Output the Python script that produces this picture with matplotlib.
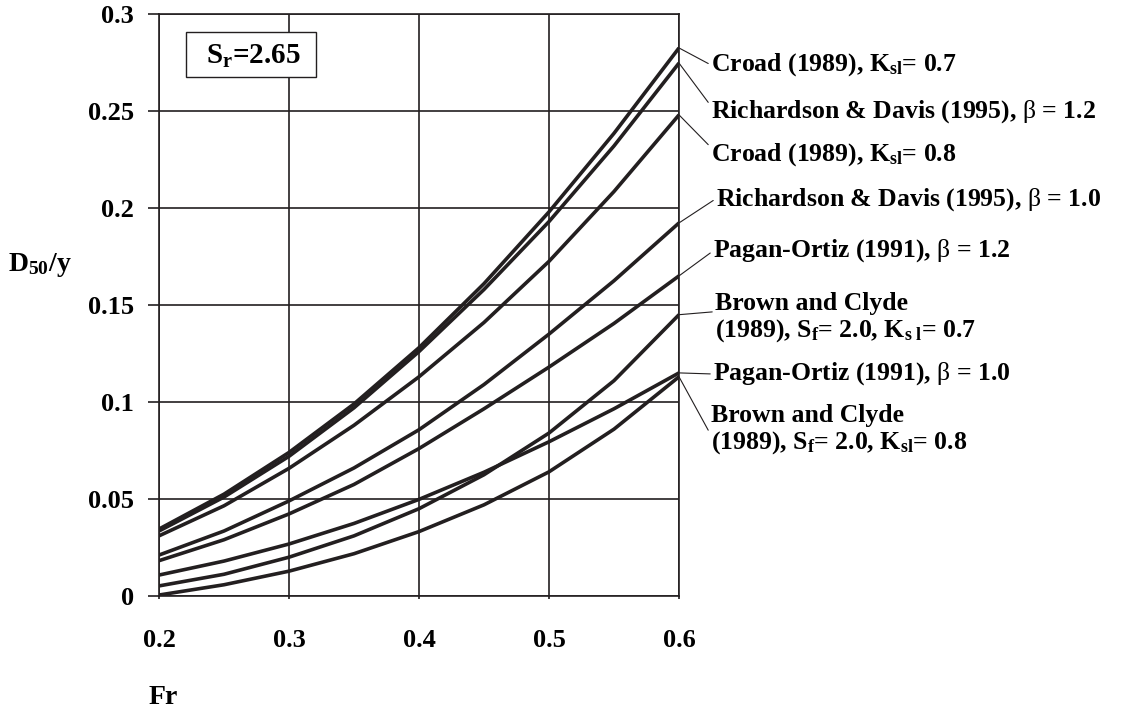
import numpy as np
import matplotlib
matplotlib.use('Agg')
import matplotlib.pyplot as plt
from matplotlib.patches import Rectangle

# Froude number and D50/y
fr = [0.2, 0.25, 0.3, 0.35, 0.4, 0.45, 0.5, 0.55, 0.6]
croad_07 = [0.0345, 0.0525, 0.0740, 0.0990, 0.1280, 0.1610, 0.1980, 0.2385, 0.2825]
rd_12 = [0.0335, 0.0510, 0.0720, 0.0970, 0.1260, 0.1580, 0.1930, 0.2320, 0.2747]
croad_08 = [0.0310, 0.0465, 0.0658, 0.0880, 0.1130, 0.1410, 0.1725, 0.2085, 0.2480]
rd_10 = [0.0211, 0.0335, 0.0490, 0.0660, 0.0857, 0.1090, 0.1350, 0.1625, 0.1923]
pagan_12 = [0.0182, 0.0290, 0.0423, 0.0575, 0.0760, 0.0965, 0.1180, 0.1405, 0.1650]
brown_07 = [0.0052, 0.0112, 0.0200, 0.0310, 0.0450, 0.0625, 0.0840, 0.1110, 0.1450]
pagan_10 = [0.0108, 0.0180, 0.0268, 0.0374, 0.0498, 0.0638, 0.0795, 0.0965, 0.1150]
brown_08 = [0.0005, 0.0058, 0.0128, 0.0218, 0.0332, 0.0470, 0.0640, 0.0860, 0.1130]

labels = [r'Croad (1989), K$\mathrm{_{sl}}$= 0.7',
          r'Richardson & Davis (1995), $\beta$ = 1.2',
          r'Croad (1989), K$\mathrm{_{sl}}$= 0.8',
          r'Richardson & Davis (1995), $\beta$ = 1.0',
          r'Pagan-Ortiz (1991), $\beta$ = 1.2',
          'Brown and Clyde\n' + r'(1989), S$\mathrm{_f}$= 2.0, K$\mathrm{_{s\ l}}$= 0.7',
          r'Pagan-Ortiz (1991), $\beta$ = 1.0',
          'Brown and Clyde\n' + r'(1989), S$\mathrm{_f}$= 2.0, K$\mathrm{_{sl}}$= 0.8']
series = [croad_07, rd_12, croad_08, rd_10, pagan_12, brown_07, pagan_10, brown_08]

# label placement (figure pixels, from top-left) and where the leader meets the text
label_pos = [(711, 65), (711, 112), (711, 155), (716, 200),
             (713, 251), (715, 318), (713, 374), (711, 430)]
rel_y = [0.5, 0.72, 0.78, 0.55, 0.5, 0.62, 0.5, 0.4]

plt.rcParams['font.family'] = 'Liberation Serif'
plt.rcParams['font.weight'] = 'bold'
plt.rcParams['mathtext.fontset'] = 'custom'
plt.rcParams['mathtext.rm'] = 'Liberation Serif:weight=bold'
plt.rcParams['mathtext.bf'] = 'Liberation Serif:weight=bold'
plt.rcParams['mathtext.it'] = 'Liberation Serif:weight=normal'

W, H = 1124, 725
ink = '#231f20'
fig = plt.figure(figsize=(W/100, H/100), dpi=100)
ax = fig.add_axes([159/W, 1-596/H, (679-159)/W, (596-14)/H])

for s in series:
    ax.plot(fr, s, color=ink, lw=2.6, solid_capstyle='butt', solid_joinstyle='round', zorder=3)

ax.set_xlim(0.2, 0.6)
ax.set_ylim(0, 0.3)
ax.set_xticks([0.2, 0.3, 0.4, 0.5, 0.6])
ax.set_xticklabels(['0.2', '0.3', '0.4', '0.5', '0.6'])
ax.set_yticks([0, 0.05, 0.1, 0.15, 0.2, 0.25, 0.3])
ax.set_yticklabels(['0', '0.05', '0.1', '0.15', '0.2', '0.25', '0.3'])
ax.grid(True, color=ink, lw=1.2)
ax.set_axisbelow(True)
for sp in ax.spines.values():
    sp.set_linewidth(1.2)
    sp.set_color(ink)
ax.tick_params(axis='y', length=8, width=1.2, pad=10, labelsize=19, color=ink)
ax.tick_params(axis='x', length=2, width=1.2, pad=22, labelsize=19, color=ink)

# Sr box
fig.patches.append(Rectangle((186/W, 1-77/H), 130/W, 45/H, transform=fig.transFigure,
                             fc='white', ec=ink, lw=1.0, zorder=5))
fig.text(253/W, 1-56/H, r'S$\mathrm{_r}$=2.65', fontsize=21, ha='center', va='center', zorder=6)

fig.text(8/W, 1-265/H, r'D$\mathrm{_{50}}$/y', fontsize=20, ha='left', va='center')
fig.text(163/W, 1-697/H, 'Fr', fontsize=20, ha='center', va='center')

for s, lab, (px, py), ry in zip(series, labels, label_pos, rel_y):
    ax.annotate(lab, xy=(fr[-1], s[-1]), xycoords='data',
                xytext=(px/W, 1-py/H), textcoords='figure fraction',
                ha='left', va='center', fontsize=18.5, linespacing=1.15,
                annotation_clip=False,
                arrowprops=dict(arrowstyle='-', color=ink, lw=0.8,
                                shrinkA=0, shrinkB=0, relpos=(0, ry)))

fig.savefig('out.png', dpi=100, facecolor='white')
